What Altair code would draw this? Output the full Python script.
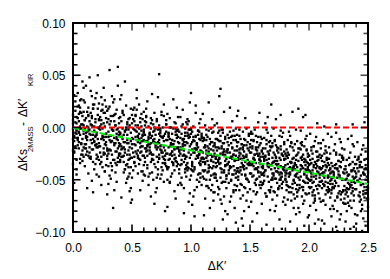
import altair as alt
import pandas as pd

# ---- scatter values: "x(hundredths):y(thousandths)" ----
STRIPS = [
 "0:12 1:-8 2:25 3:-3 4:-17 5:6 6:-30 7:14 8:-11 9:2 0:-22 1:31 2:-5 3:-40 4:9 5:-14 6:19 7:-1 8:-26 9:38 1:-9 3:4 5:-20 7:27 9:-6 0:-35 2:16 4:-12 6:1 8:44 1:-53 3:-2 5:21 7:-16 9:-28 0:7 2:-19 4:33 6:-7 8:11 3:-45 5:-4 7:3 9:15 1:-24 4:-10 6:26 8:-32",
 "14:-19 10:7 17:-33 12:15 19:-8 11:-26 16:2 13:-44 18:22 15:-12 18:-3 13:11 10:-37 16:-15 12:-58 19:28 14:-6 11:40 17:-21 15:3 11:-10 17:18 14:-29 19:-17 13:0 16:-51 10:24 18:-13 12:-4 15:35 16:9 12:-23 18:-40 10:-1 15:-30 13:19 17:-7 11:-16 19:5 14:48 13:-27 19:-35 15:14 11:-5 17:-62 10:-20 16:30 18:1",
 "23:-2 27:-25 21:12 25:-38 29:5 20:-16 24:29 28:-9 22:-47 26:-20 29:-30 22:8 26:-12 20:33 24:-55 27:1 21:-19 25:17 23:-35 28:-6 25:-1 28:20 21:-28 23:10 27:-42 20:-7 26:38 22:-15 29:-22 24:-11 27:14 24:-33 20:-26 26:4 22:23 29:-64 23:-18 25:-8 21:50 28:-36 26:-24 21:0 29:16 24:7 20:-45 28:-14 22:-31 27:26",
 "36:-15 31:3 38:-29 33:-41 30:18 35:-10 37:-52 32:-22 39:9 34:-3 32:-34 39:-18 34:24 37:-6 31:-46 36:13 30:-25 38:-1 33:-13 35:-60 35:6 30:-37 33:30 38:-20 36:-43 32:-8 39:-27 31:-12 37:17 34:-77 39:-4 34:-31 31:20 36:-23 38:40 33:-2 30:-54 35:-17 32:11 37:-36 37:-11 33:-26 35:27 30:-9 32:-49 39:-15 36:2 31:55 38:58",
 "41:-18 45:-36 48:2 43:-27 40:-5 46:-49 42:16 49:-13 44:-40 47:-22 47:8 40:-31 44:-14 49:-58 42:-1 45:21 48:-44 41:-9 46:-26 43:12 43:-33 48:-19 41:-67 46:5 49:-29 42:-11 45:-53 40:27 47:-38 44:-3 44:-24 41:31 47:-47 43:-7 40:-16 46:-35 49:18 42:-28 48:-61 45:0 46:-12 43:-43 40:10 48:-30 44:44 41:-21 47:-2 49:-72",
 "53:-9 57:-31 50:4 58:-18 52:-2 55:-44 59:-13 51:17 54:-25 56:-6 57:9 50:-20 53:-37 55:-14 58:1 52:-28 56:22 59:-51 51:-11 54:-4 56:-35 50:-16 58:13 53:-23 55:-8 57:-60 52:6 59:-27 51:-41 54:28 58:-10 50:-48 56:-1 53:12 57:-19 52:-33 55:2 59:-7 51:-24 54:36 55:-29 57:-15 50:-69 53:-3 58:-42 52:19 56:-12 59:8",
 "64:-11 61:-33 68:3 62:-20 66:-1 60:-45 65:-16 69:14 63:-27 67:-8 61:6 66:-24 63:-39 69:-14 60:-2 67:-30 62:18 64:-55 68:-12 65:-5 60:-36 65:-19 62:10 68:-26 64:-9 66:-66 69:0 61:-29 67:-43 63:25 62:-13 68:-50 60:-4 66:9 63:-22 69:-35 64:1 61:-7 65:-25 67:32 67:-31 63:-17 69:-73 65:-6 61:-46 60:15 66:-15 62:5",
 "72:-14 78:-35 70:-1 75:-22 79:-4 71:-48 74:-18 77:11 73:-30 76:-10 79:3 73:-26 76:-41 70:-17 78:-6 72:-33 75:15 71:-58 77:-13 74:-8 75:-38 71:-21 79:7 76:-28 73:-12 70:-62 74:-3 78:-31 72:-45 77:22 70:-15 77:-52 74:-5 71:6 75:-24 79:-37 73:-1 76:-9 78:-27 72:29 76:-34 72:-19 78:-80 70:-7 74:-49 75:12 71:-16 73:2 73:51",
 "85:-16 81:-38 89:-2 83:-25 87:-7 80:-50 86:-21 82:9 88:-33 84:-12 82:0 87:-29 84:-44 89:-19 81:-9 85:-36 80:13 86:-61 83:-15 88:-10 80:-40 84:-23 86:5 82:-30 89:-14 87:-68 81:-5 85:-34 83:-47 88:19 83:-17 89:-55 81:-8 87:4 84:-27 80:-39 88:-3 82:-11 86:-26 85:27 88:-37 86:-20 80:-76 84:-6 82:-52 89:10 83:-18 87:-1",
 "93:-18 97:-41 90:-4 95:-27 99:-9 91:-53 94:-22 98:6 92:-35 96:-14 98:-2 92:-31 96:-47 90:-21 94:-11 97:-38 91:10 99:-63 93:-16 95:-8 95:-43 91:-25 97:3 94:-33 90:-15 98:-71 92:-6 96:-36 99:-50 93:17 91:-19 94:-58 98:-10 92:1 96:-28 90:-40 97:-5 93:-12 95:-30 99:24 96:-39 90:-23 94:-82 98:-7 92:-55 97:8 91:-20 95:-1",
 "104:-20 108:-44 100:-6 106:-29 102:-12 109:-55 103:-24 107:4 101:-37 105:-16 107:-4 101:-33 105:-50 109:-23 103:-13 100:-40 108:8 102:-66 106:-19 104:-9 100:-46 106:-27 102:1 108:-35 105:-17 101:-74 109:-8 103:-38 107:-52 104:14 105:-21 103:-60 107:-11 100:-2 109:-30 102:-42 106:-7 101:-14 108:-32 104:21 101:-41 107:-25 103:-85 109:-10 105:-57 100:33 108:-22 106:-3",
 "116:-38 111:-12 118:-55 113:-29 110:-47 115:-3 119:-33 112:-68 117:-21 114:-9 112:-41 117:-60 114:-18 119:-4 111:-30 116:-77 110:-24 118:-14 113:-50 115:-36 119:-45 113:-7 116:-26 110:13 118:-39 112:-19 115:-58 111:-84 117:-32 114:-43 114:-27 118:8 111:-49 116:-16 112:-35 119:-62 113:-22 110:-10 117:-46 115:24 113:-56 110:-33 117:-1 115:-20 119:-70 112:2 118:-28 111:-42",
 "127:-24 122:-51 125:-8 129:-37 120:-62 124:-30 128:-15 121:-45 126:-73 123:-19 121:-34 126:-2 123:-57 128:-41 124:-13 120:-27 129:-80 125:-48 122:-22 127:-5 125:-39 128:-66 120:-17 123:-31 127:-52 122:4 129:-26 124:-59 121:-11 126:-43 129:-9 124:-35 127:-88 121:-29 126:-20 123:-64 120:-44 128:15 122:-37 125:-25 123:-12 126:-53 129:-32 120:2 125:-69 121:-48 128:-21 124:30 125:37",
 "132:-33 136:-12 130:-49 138:-27 134:-66 131:-21 137:-41 133:-4 139:-56 135:-30 135:-45 139:-18 133:-71 130:-36 137:-8 132:-53 136:-26 131:-83 134:-38 138:-1 138:-48 134:-15 131:-35 136:-62 130:-23 139:-42 133:-29 137:-77 132:-10 135:6 130:-58 137:-31 135:-19 139:-7 132:-44 138:-91 131:-24 134:-51 136:-37 133:19 136:-3 133:-39 138:-60 131:-14 135:-28 130:-46 139:11 137:-22",
 "147:-28 143:-55 140:-14 145:-40 149:-22 142:-68 146:-33 141:-8 148:-50 144:-36 144:-19 148:-62 141:-43 147:-1 143:-30 149:-76 140:-47 146:-12 142:-25 145:-57 142:-38 145:-17 149:-52 140:-31 147:-70 144:-4 141:-24 143:-87 146:-45 148:-20 148:-35 141:-60 144:-27 146:9 140:-42 143:-16 147:-49 149:-34 145:-80 142:-11 145:-29 149:-6 142:-54 147:-39 141:-21 144:-65 140:16 146:-46 144:-94",
 "151:-12 156:-40 159:-28 153:-61 150:-35 157:-19 154:-2 152:-47 158:-30 155:-8 150:-24 158:-55 153:-37 156:-14 151:-71 159:-43 154:-26 157:5 152:-33 155:-50 157:-38 152:-20 155:-64 150:-44 159:-9 153:-29 156:-82 151:-36 158:-17 154:-53 154:-31 159:-58 151:-4 156:-25 153:-46 150:-16 158:14 155:-39 152:-90 157:-27 155:-21 158:-34 152:-6 156:-49 150:-59 153:-13 159:-32 157:-42",
 "166:-30 162:-51 169:-15 160:-38 164:-66 167:-22 161:-44 165:-5 168:-57 163:-27 163:-41 168:-19 160:-73 165:-34 169:-48 162:-10 166:-60 161:-25 167:-36 164:-2 161:-54 164:-31 167:-79 169:-29 162:-43 166:-14 160:-23 168:-40 163:-63 165:-37 168:-8 165:-47 162:-32 167:-18 160:-55 163:4 169:-69 161:-39 166:-26 164:-93 160:-45 166:-35 163:-20 169:-50 164:-12 161:-28 167:-62 165:10 168:22",
 "172:-35 177:-58 174:-20 170:-46 178:-71 175:-29 171:-12 179:-41 173:-53 176:-3 176:-37 170:-24 173:-65 179:-31 172:-49 177:-9 171:-80 174:-43 178:-27 175:-56 179:-16 174:-39 171:-62 176:-48 170:-33 178:-5 172:-75 177:-44 173:-22 175:-88 173:-36 178:-52 176:-18 172:-28 179:-67 170:-1 175:-45 171:-32 177:-97 174:-59 177:-26 173:-42 171:-13 178:-38 170:-61 176:-50 172:8 179:-23 176:12",
 "184:-38 181:-60 187:-22 183:-47 189:-31 180:-74 185:-14 188:-53 182:-29 186:-41 182:-56 186:-19 180:-36 188:-68 184:-8 181:-44 189:-83 183:-26 187:-50 185:-33 189:-45 185:-62 182:-12 187:-37 180:-25 184:-90 186:-54 181:-21 188:-40 183:-4 186:-30 183:-57 188:-16 180:-49 185:-70 182:-35 189:-2 187:-64 181:-27 184:-43 181:-52 188:-34 184:-18 189:-59 183:-39 186:15 180:-46 187:-77",
 "193:-40 197:-63 190:-26 195:-51 199:-34 191:-77 194:-17 198:-46 192:-58 196:-30 198:-21 192:-42 196:-70 190:-55 194:-37 197:-11 191:-48 199:-86 193:-29 195:-60 195:-39 191:-24 197:-53 194:-66 190:-44 198:-8 192:-81 196:-33 199:-49 193:-15 190:-62 196:-45 193:-3 199:-28 194:-57 197:-36 191:18 195:-73 198:-41 192:-20 192:-50 198:-64 194:-31 190:-13 196:-94 193:-47 199:-38 197:12 195:10",
 "201:-42 205:-65 208:-28 203:-53 200:-36 206:-79 202:-19 209:-48 204:-60 207:-32 207:-23 200:-50 204:-72 209:-39 202:-57 205:-13 208:-88 201:-31 206:-46 203:-62 203:-41 208:-55 201:-6 206:-35 209:-68 202:-44 205:-92 200:-27 207:-59 204:-18 204:-47 201:-75 207:-37 203:-25 200:-63 206:-9 209:-52 202:-34 208:-43 205:-70 206:-56 203:-30 200:-84 208:-15 204:-38 201:-51 207:4 209:-45",
 "218:-39 211:-58 215:-24 210:-71 217:-47 213:-33 219:-85 212:-12 216:-53 214:-41 210:-29 214:-64 219:-50 212:-37 216:-6 211:-44 218:-78 213:-56 215:-31 217:-19 215:-60 217:-36 211:-27 219:-43 213:-92 216:-48 210:-15 218:-67 212:-54 214:-22 212:-46 219:-9 214:-74 210:-52 217:-61 215:-38 218:-25 211:-89 216:-34 213:1 216:-57 213:-43 218:-51 214:-18 210:-40 212:-70 217:-30 219:-63",
 "226:-46 222:-70 229:-31 220:-57 224:-80 227:-38 221:-22 225:-63 228:-49 223:-35 223:-53 228:-27 220:-75 225:-42 229:-60 222:-16 226:-88 221:-47 227:-33 224:-66 221:-58 224:-40 227:-83 229:-29 222:-51 226:-11 220:-37 228:-62 223:-95 225:-45 228:-20 225:-56 222:-36 227:-69 220:-48 223:-5 229:-72 221:-43 226:-26 224:-99 220:-54 226:-61 223:-24 229:-50 224:-39 221:-78 227:-14 225:-32 223:3",
 "235:-55 231:-37 238:-70 233:-46 230:-21 236:-63 239:-48 232:-80 237:-33 234:-59 239:-28 233:-66 236:-41 231:-90 238:-52 230:-44 234:-75 237:-16 232:-58 235:-35 232:-43 237:-61 234:-29 239:-83 231:-50 236:-8 233:-72 230:-56 238:-39 235:-97 237:-47 230:-68 235:-24 232:-31 239:-59 234:-45 231:-64 238:-18 233:-53 236:-77 234:-36 238:-95 230:-40 236:-52 233:-11 231:-73 239:-42 237:3",
 "241:-51 245:-74 248:-36 243:-62 240:-44 246:-87 242:-28 249:-57 244:-69 247:-40 247:-31 240:-59 244:-80 249:-47 242:-65 245:-21 248:-94 241:-39 246:-54 243:-71 243:-49 248:-63 241:-14 246:-43 250:-76 242:-52 245:-99 240:-35 247:-67 244:-26 244:-55 241:-84 247:-45 243:-33 250:-58 246:-17 249:-60 242:-42 248:-50 245:-78 246:-64 243:-38 240:-92 248:-23 244:-46 250:-68 247:5 249:-30",
]

# denser core of the band
CORE = [
 "3:-6 11:9 7:-15 16:2 0:-11 14:-24 5:13 18:-4 9:-19 2:5 12:-9 17:18 6:-1 15:-28 1:-13 10:7 19:-17 4:20 13:-3 8:-22 16:11 3:-31 11:-8 0:4 18:-14 6:15 14:-2 9:26 2:-18 12:1 7:-26 17:-11 5:-5 19:8 10:-16 13:12 1:-23 15:-7 8:3 4:-10 17:22 11:-20 0:-1 14:6 6:-34 19:-9 3:10 16:-21 9:-3 12:-12",
 "37:-2 22:-18 30:8 26:-9 39:-25 24:3 33:-13 20:-30 35:12 28:-6 31:-21 38:-12 23:1 36:-34 27:-16 21:18 34:-3 29:-27 25:-10 32:6 39:-7 20:-19 26:14 33:-37 22:-1 37:-23 28:9 24:-28 35:-15 30:-4 21:-11 36:2 29:-20 25:22 38:-33 31:-8 23:-24 34:11 27:-42 32:-14 20:-5 39:4 26:-26 33:-1 22:7 35:-31 28:-17 24:16 37:-9 30:-22",
 "58:-3 44:-21 50:-10 41:6 55:-27 47:-15 53:2 40:-33 59:-18 46:-7 42:14 57:-24 51:-1 45:-36 54:-12 48:9 43:-19 56:-30 49:-5 52:-16 40:-25 47:0 58:-13 44:-40 53:11 41:-9 55:-22 50:-29 46:3 59:-8 43:-14 57:5 48:-26 52:-34 45:-2 54:17 42:-20 56:-11 49:-38 51:8 47:-31 40:-6 53:-17 58:-23 44:-4 55:-9 41:-28 50:12 46:-15 59:-42",
 "61:-20 75:-9 68:-31 72:-2 64:-16 79:-25 66:4 70:-38 63:-13 77:-19 60:-5 73:-29 69:-11 65:-44 76:0 62:-23 71:-15 78:-34 67:7 74:-21 60:-27 69:-3 75:-17 63:-36 71:8 66:-10 78:-22 64:-47 73:-6 67:-26 79:-12 61:2 70:-19 77:-30 65:-7 72:-40 68:-14 62:11 76:-24 74:-1 63:-18 79:3 66:-33 60:-12 71:-28 75:-45 68:-4 73:-15 65:-22 77:-8",
 "97:-15 84:-33 90:-22 81:-6 95:-40 87:-19 93:-27 80:-12 99:-2 86:-30 83:-17 92:-48 89:-9 98:-24 85:-1 91:-36 94:-14 82:-26 96:5 88:-20 80:-38 93:-11 99:-29 87:-4 84:-23 95:-17 90:-44 97:-8 81:-31 86:-13 92:-21 89:-35 83:0 98:-39 94:-26 85:-16 91:-10 96:-28 82:-53 88:-7 99:-18 86:-41 80:-25 93:3 87:-32 95:-5 84:-12 90:-27 97:-34 81:-19",
 "104:-30 117:-14 110:-41 101:-21 113:-2 107:-26 119:-37 102:-9 115:-23 108:-48 100:-16 112:-33 118:-5 105:-27 111:-19 103:-40 116:-11 109:-29 114:-56 106:-3 119:-22 101:-35 110:-13 107:-44 113:-25 104:-8 117:-31 100:-1 112:-17 108:-36 115:-39 102:-24 109:-6 118:-28 106:-45 111:-10 103:-20 114:-32 105:-15 116:-50 100:-26 113:-12 107:-34 119:-18 110:-29 101:-4 115:-42 104:-21 117:-26 108:-12",
 "126:-40 121:-19 134:-28 129:-52 138:-12 123:-33 131:-7 136:-45 120:-25 127:-15 133:-37 139:-22 124:-3 130:-30 137:-55 122:-11 128:-43 135:-20 125:-34 132:-17 120:-48 138:-31 127:-26 134:-9 121:-38 131:-21 136:-60 124:-29 139:-14 129:-36 123:-5 133:-24 126:-18 137:-32 130:-46 122:-27 135:-8 128:-23 132:-41 125:-13 139:-39 134:-50 121:-30 127:-2 136:-26 131:-35 120:-15 138:-44 124:-20 129:-11",
 "149:-36 142:-20 157:-43 145:-11 153:-30 140:-50 158:-25 147:-17 144:-38 151:-6 155:-34 141:-27 159:-52 148:-14 143:-45 156:-22 150:-33 146:-58 152:-18 154:-40 140:-29 157:-9 145:-37 151:-24 143:-16 158:-47 148:-31 141:-2 155:-55 147:-26 153:-12 159:-35 142:-41 150:-19 146:-28 156:-62 144:-21 152:-35 149:-8 154:-26 140:-39 158:-31 145:-23 151:-44 143:-34 157:-27 147:-49 159:-15 142:-30 155:-19",
 "163:-41 171:-26 168:-50 176:-31 160:-22 174:-58 165:-35 179:-14 169:-44 162:-30 173:-19 177:-47 166:-38 175:-8 161:-53 170:-33 178:-27 164:-16 172:-42 167:-60 176:-21 161:-37 171:-49 160:-11 178:-40 166:-25 174:-35 169:-18 162:-46 172:-29 167:-13 177:-54 165:-23 179:-38 170:-44 173:-32 161:-20 175:-50 168:-36 164:-66 177:-25 171:-39 160:-45 174:-24 166:-52 179:-30 163:-28 176:-43 169:-34 172:-17",
 "186:-39 181:-55 194:-28 189:-47 198:-33 183:-62 191:-20 196:-44 180:-30 187:-51 193:-36 199:-25 184:-45 190:-66 197:-40 182:-24 188:-35 195:-57 185:-15 192:-42 180:-50 198:-48 187:-29 194:-37 181:-41 191:-60 196:-18 184:-33 199:-53 189:-27 183:-44 193:-21 186:-58 197:-31 190:-38 182:-69 195:-26 188:-46 192:-55 185:-34 199:-40 194:-14 181:-27 187:-38 196:-52 191:-32 180:-43 198:-22 184:-57 189:-36",
 "203:-44 216:-30 209:-56 201:-35 213:-48 206:-23 219:-60 211:-39 204:-52 217:-41 200:-27 208:-63 214:-36 202:-47 210:-20 218:-54 205:-33 212:-70 207:-42 215:-29 200:-57 209:-38 216:-46 204:-18 211:-51 219:-34 203:-65 213:-25 206:-49 218:-40 201:-58 214:-52 208:-31 217:-59 202:-22 210:-45 205:-68 215:-37 212:-43 207:-28 219:-48 200:-41 216:-62 204:-36 209:-26 213:-55 206:-39 211:-32 202:-50 218:-44",
 "224:-48 239:-35 231:-60 246:-44 222:-39 236:-55 228:-29 243:-66 233:-46 249:-40 220:-58 241:-51 226:-37 235:-70 229:-43 247:-57 223:-26 238:-49 244:-33 232:-62 221:-45 250:-52 237:-41 227:-64 242:-30 234:-54 248:-63 225:-32 240:-47 230:-73 245:-38 222:-56 236:-42 249:-68 228:-50 243:-36 233:-59 247:-45 224:-67 239:-53 231:-40 246:-61 226:-48 241:-31 235:-57 250:-43 229:-61 244:-55 220:-42 238:-65 232:-49 248:-39 237:-58",
]

DK = []      # Delta K'
DRES = []    # Delta Ks_2MASS - Delta K'_KIR
for strip in STRIPS + CORE:
    for tok in strip.split():
        a, b = tok.split(":")
        DK.append(int(a) / 100)
        DRES.append(int(b) / 1000)

LINE_X = [0.0, 2.5]
ZERO_Y = [0.0, 0.0]
FIT_Y = [-0.0005, -0.054]

X_MAJOR = [0.0, 0.5, 1.0, 1.5, 2.0, 2.5]
X_MINOR = [0.1, 0.2, 0.3, 0.4, 0.6, 0.7, 0.8, 0.9, 1.1, 1.2,
           1.3, 1.4, 1.6, 1.7, 1.8, 1.9, 2.1, 2.2, 2.3, 2.4]
Y_MAJOR = [-0.10, -0.05, 0.0, 0.05, 0.10]
Y_MINOR = [-0.09, -0.08, -0.07, -0.06, -0.04, -0.03, -0.02, -0.01,
           0.01, 0.02, 0.03, 0.04, 0.06, 0.07, 0.08, 0.09]

FONT = "Liberation Sans"
W, H = 295, 209
MAJ, MIN = 7.5, 4.5

pts = pd.DataFrame({"x": DK, "y": DRES})
ref = pd.DataFrame({"x": LINE_X, "y": ZERO_Y})
fit = pd.DataFrame({"x": LINE_X, "y": FIT_Y})

xsc = alt.Scale(domain=[0, 2.5], nice=False, zero=False)
ysc = alt.Scale(domain=[-0.1, 0.1], nice=False, zero=False)

points = alt.Chart(pts).mark_square(size=5.5, color="black", opacity=1).encode(
    x=alt.X("x:Q", scale=xsc, axis=alt.Axis(
        values=X_MAJOR, format=".1f", ticks=False, domain=False, grid=False,
        labelFont=FONT, labelFontSize=12, labelColor="black", labelPadding=19,
        labelBaseline="alphabetic", labelFlush=False,
        title="ΔK′", titleFont=FONT, titleFontSize=12, titleFontWeight="normal",
        titleColor="black", titleX=143.5, titleY=37, titleBaseline="alphabetic",
        titleAlign="center")),
    y=alt.Y("y:Q", scale=ysc, axis=alt.Axis(
        values=Y_MAJOR, format=".2f", ticks=False, domain=False, grid=False,
        labelFont=FONT, labelFontSize=12, labelColor="black", labelPadding=8,
        labelBaseline="alphabetic", labelOffset=4.5, labelFlush=False, title=None)),
)

red = alt.Chart(ref).mark_line(color="#ff0000", strokeWidth=2, strokeDash=[6, 3]).encode(
    x=alt.X("x:Q", scale=xsc), y=alt.Y("y:Q", scale=ysc))
green = alt.Chart(fit).mark_line(color="#00ee00", strokeWidth=2, strokeDash=[6, 3]).encode(
    x=alt.X("x:Q", scale=xsc), y=alt.Y("y:Q", scale=ysc))

# inward tick marks, one layer per side and size
tick_layers = [
    alt.Chart(pd.DataFrame({"ly": Y_MAJOR})).mark_rule(color="black", strokeWidth=1.6).encode(
        y=alt.Y("ly:Q", scale=ysc), x=alt.value(0), x2=alt.value(MAJ)),
    alt.Chart(pd.DataFrame({"ly": Y_MINOR})).mark_rule(color="black", strokeWidth=1.6).encode(
        y=alt.Y("ly:Q", scale=ysc), x=alt.value(0), x2=alt.value(MIN)),
    alt.Chart(pd.DataFrame({"ry": Y_MAJOR})).mark_tick(color="black", thickness=1.6, size=MAJ, orient="horizontal").encode(
        y=alt.Y("ry:Q", scale=ysc), x=alt.value(W - MAJ / 2)),
    alt.Chart(pd.DataFrame({"ry": Y_MINOR})).mark_tick(color="black", thickness=1.6, size=MIN, orient="horizontal").encode(
        y=alt.Y("ry:Q", scale=ysc), x=alt.value(W - MIN / 2)),
    alt.Chart(pd.DataFrame({"bx": X_MAJOR})).mark_rule(color="black", strokeWidth=1.6).encode(
        x=alt.X("bx:Q", scale=xsc), y=alt.value(H), y2=alt.value(H - MAJ)),
    alt.Chart(pd.DataFrame({"bx": X_MINOR})).mark_rule(color="black", strokeWidth=1.6).encode(
        x=alt.X("bx:Q", scale=xsc), y=alt.value(H), y2=alt.value(H - MIN)),
    alt.Chart(pd.DataFrame({"tx": X_MAJOR})).mark_tick(color="black", thickness=1.6, size=MAJ, orient="vertical").encode(
        x=alt.X("tx:Q", scale=xsc), y=alt.value(MAJ / 2)),
    alt.Chart(pd.DataFrame({"tx": X_MINOR})).mark_tick(color="black", thickness=1.6, size=MIN, orient="vertical").encode(
        x=alt.X("tx:Q", scale=xsc), y=alt.value(MIN / 2)),
]

# y-axis title with subscripts, built from rotated text pieces
TITLE_PARTS = [("ΔKs", 12, -46, 148), ("2MASS", 7.5, -40, 129), ("-", 12, -46, 103),
               ("ΔK′", 12, -46, 94), ("KIR", 7.5, -40, 63)]
title_layers = []
for txt, fs, px, py in TITLE_PARTS:
    title_layers.append(
        alt.Chart(pd.DataFrame({"t": [txt]})).mark_text(
            angle=270, align="left", baseline="alphabetic", font=FONT, fontSize=fs,
            color="black").encode(text="t:N", x=alt.value(px), y=alt.value(py))
    )

chart = alt.layer(points, red, green, *tick_layers, *title_layers).properties(
    width=W, height=H,
    autosize=alt.AutoSizeParams(type="none"),
    padding={"left": 65, "top": 15, "right": 14, "bottom": 39},
).configure_view(stroke="black", strokeWidth=2)

chart.save("out.html", embed_options={"renderer": "svg", "actions": False})
